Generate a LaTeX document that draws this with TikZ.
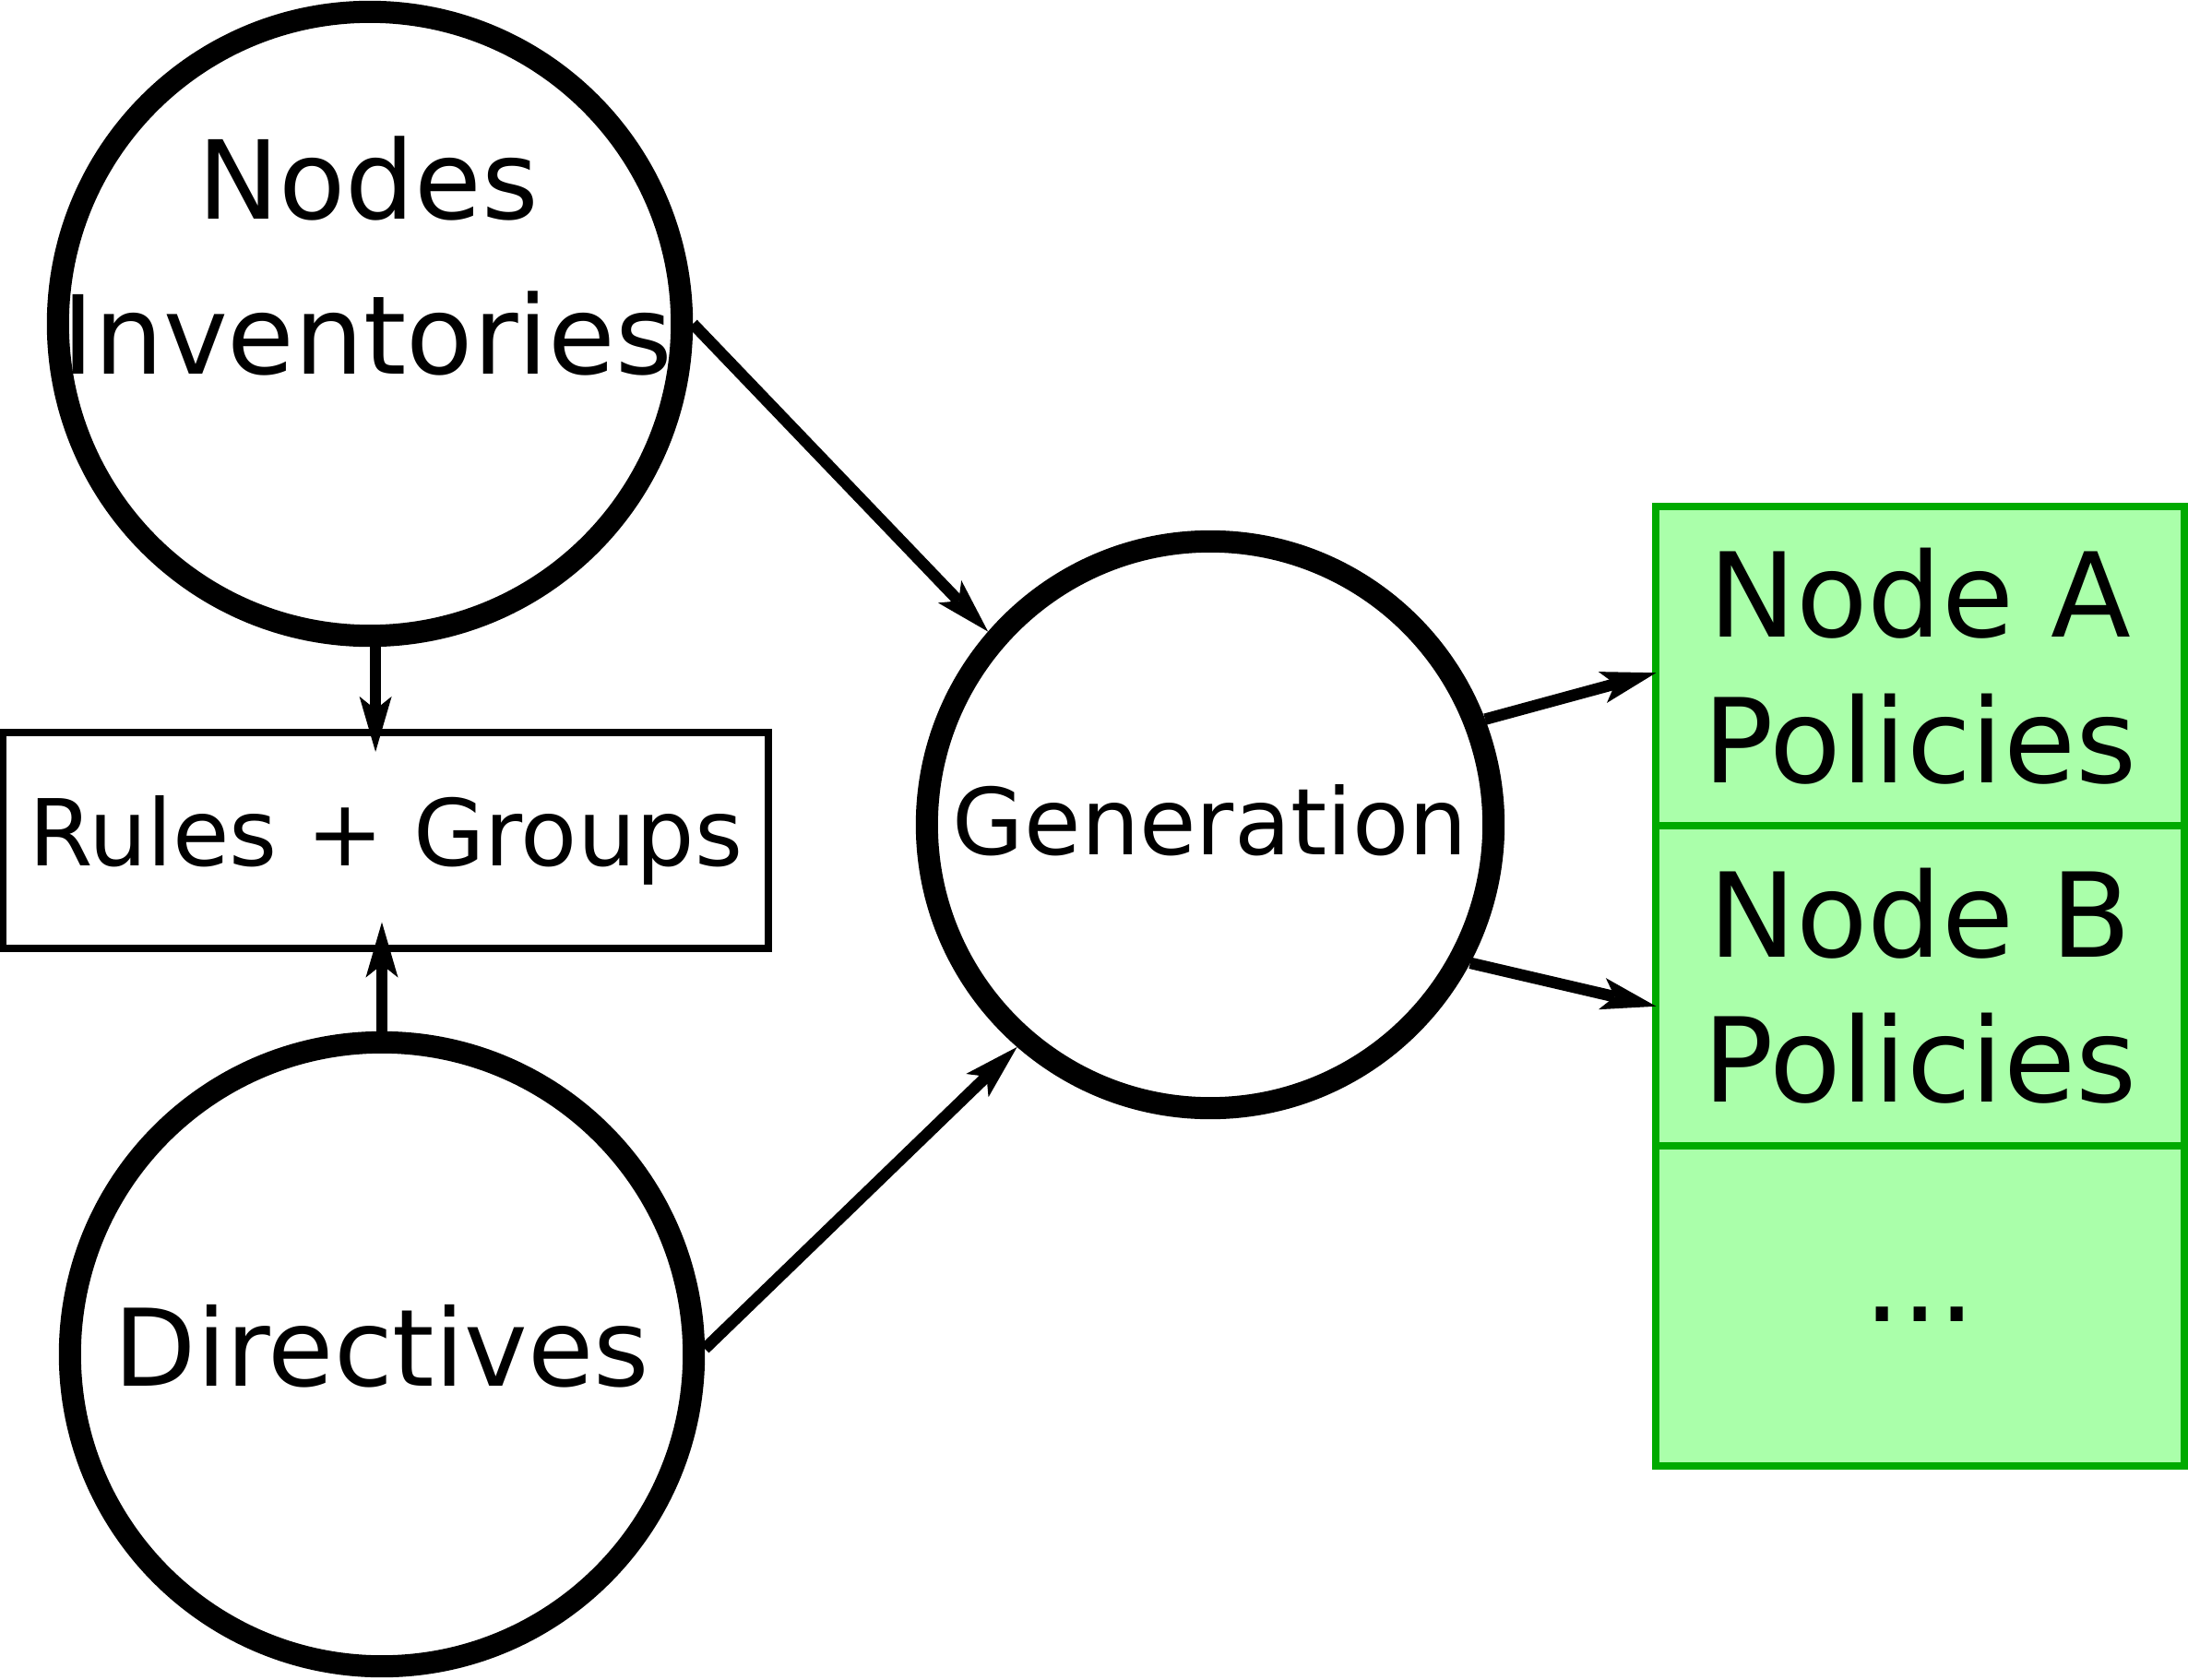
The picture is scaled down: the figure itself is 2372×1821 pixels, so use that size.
\documentclass[tikz,border=0pt]{standalone}
\usepackage{fontspec}
\setmainfont{DejaVu Sans}
\usetikzlibrary{arrows.meta}
\definecolor{cellfill}{HTML}{AAFFAA}
\definecolor{celldraw}{HTML}{00AA00}
\begin{document}
\begin{tikzpicture}[x=0.01cm,y=-0.01cm,
  bigcirc/.style={circle, draw=black, line width=0.24cm, minimum size=6.76cm, inner sep=0pt},
  gencirc/.style={circle, draw=black, line width=0.24cm, minimum size=6.14cm, inner sep=0pt},
  rulebox/.style={rectangle, draw=black, line width=0.08cm, minimum width=8.29cm, minimum height=2.335cm, inner sep=0pt},
  cell/.style={rectangle, draw=celldraw, fill=cellfill, line width=0.08cm, minimum width=5.72cm, minimum height=3.465cm, inner sep=0pt, outer sep=0pt, align=center, font=\fontsize{36.1pt}{44.7pt}\selectfont},
  bigtext/.style={font=\fontsize{33.6pt}{40pt}\selectfont, inner sep=0pt},
  midtext/.style={font=\fontsize{28.45pt}{34pt}\selectfont},
  arr/.style={line width=0.125cm, -{Stealth[length=0.6cm,width=0.35cm,inset=0.14cm,line width=0pt]}}
]
\useasboundingbox (0,0) rectangle (2372,1821);

\node[bigcirc] (inv) at (401,351) {};
\node[bigtext, anchor=base] (invA) at (399,237.5) {Nodes};
\node[bigtext, anchor=base] (invB) at (398,405) {Inventories};

\node[bigcirc, font=\fontsize{33pt}{40pt}\selectfont, text depth=0.2cm] (dir) at (414,1468) {Directives};

\node[gencirc, midtext, text depth=0.12cm] (gen) at (1312,894) {Generation};

\node[rulebox, midtext] (rules) at (418.1,910.75) {Rules + Groups};

\node[cell] (na) at (2081.5,722.25) {Node A\\Policies};
\node[cell] (nb) at (2081.5,1068.75) {Node B\\Policies};
\node[cell, text height=0.34cm] (nc) at (2081.5,1415.25) {...};

\draw[arr] (inv.east) -- (gen.139.5);
\draw[arr] (dir.1.3) -- (gen.229.3);
\draw[arr, shorten >=-0.25cm] (inv.-89) -- (inv.-89 |- rules.north);
\draw[arr, shorten >=-0.32cm] (dir.90.8) -- (dir.90.8 |- rules.south);
\draw[arr] (gen.21.8) -- ([yshift=-0.07cm]na.west);
\draw[arr] (gen.-28.1) -- ([yshift=-0.22cm]nb.west);
\end{tikzpicture}
\end{document}
